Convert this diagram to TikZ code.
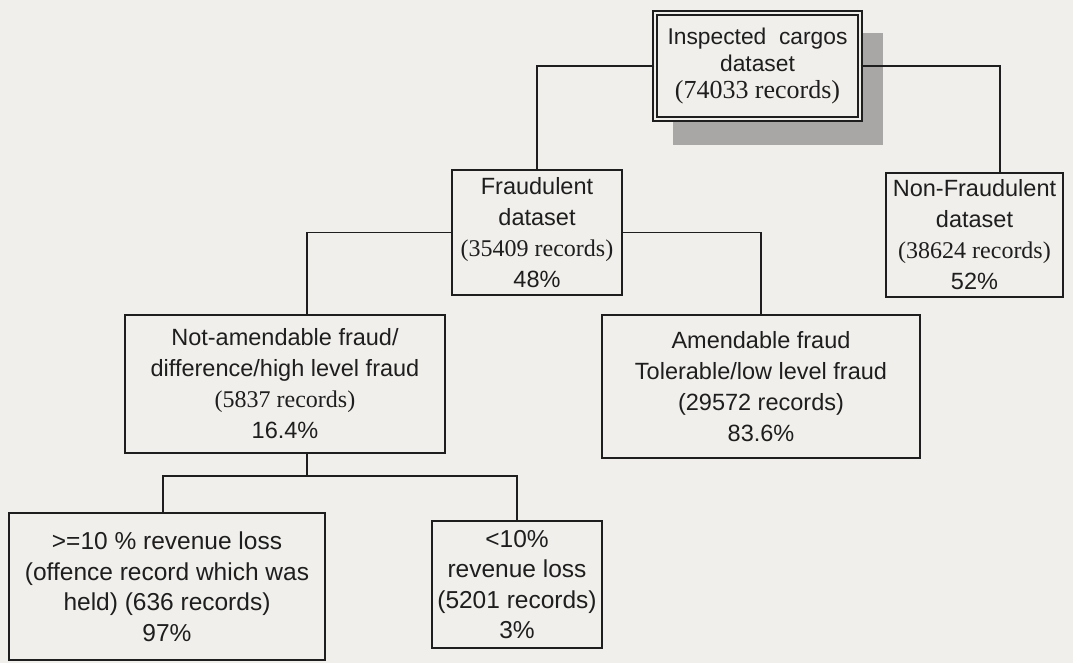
\documentclass[tikz,border=0pt]{standalone}
\usepackage{fontspec}
\setmainfont{Liberation Sans}
\newfontfamily\tms{Liberation Serif}
\definecolor{paper}{RGB}{240,239,235}
\definecolor{ink}{RGB}{30,30,30}
\definecolor{shadowgray}{RGB}{168,167,165}
\tikzset{
  box/.style={draw=ink, line width=1.6pt, fill=paper, inner sep=0pt, align=center,
    text=ink, font=\fontsize{23.5}{31}\selectfont},
  bigbox/.style={box, font=\fontsize{24.5}{30.5}\selectfont},
  rootbox/.style={box, double=paper, double distance=2.6pt, line width=1.3pt,
    font=\fontsize{22.8}{27}\selectfont},
  link/.style={draw=ink, line width=1.4pt}
}
\newcommand{\rec}[1]{{\tms\fontsize{24}{30}\selectfont #1}}
\newcommand{\recbig}[1]{{\tms\fontsize{26}{27}\selectfont #1}}
\begin{document}
\begin{tikzpicture}[x=1pt,y=-1pt]
\fill[paper] (0,0) rectangle (1073,663);
\useasboundingbox (0,0) rectangle (1073,663);

% drop shadow of the root box
\fill[shadowgray] (673,33) rectangle (883,145);

\node[rootbox, minimum width=205pt, minimum height=106pt] (root) at (757.5,66)
  {Inspected\ \ cargos\\dataset\\\recbig{(74033 records)}};

\node[box, minimum width=170pt, minimum height=125pt] (fraud) at (537,232.5)
  {Fraudulent\\dataset\\\rec{(35409 records)}\\48\%};
\node[box, minimum width=177pt, minimum height=124pt] (nonfraud) at (974.5,235)
  {Non-Fraudulent\\dataset\\\rec{(38624 records)}\\52\%};

\node[box, minimum width=320pt, minimum height=138pt] (high) at (285,384)
  {Not-amendable fraud/\\difference/high level fraud\\\rec{(5837 records)}\\16.4\%};
\node[box, minimum width=318pt, minimum height=143pt] (low) at (761,386.5)
  {Amendable fraud\\Tolerable/low level fraud\\(29572 records)\\83.6\%};

\node[bigbox, minimum width=316pt, minimum height=147pt] (big) at (167,586.5)
  {>=10 \% revenue loss\\(offence record which was\\held) (636 records)\\97\%};
\node[bigbox, minimum width=170pt, minimum height=127pt] (small) at (517,584.5)
  {<10\%\\revenue loss\\(5201 records)\\3\%};

% bend points of the tree connectors
\coordinate (rj) at (1000,0);
\coordinate (hj) at (307,0);
\coordinate (bj) at (0,476);

\draw[link] (root.west) -| (fraud.north);
\draw[link] (root.east) -| (rj |- nonfraud.north);
\draw[link] (fraud.west) -| (hj |- high.north);
\draw[link] (fraud.east) -| (low.north);
\draw[link] (hj |- high.south) -- (hj |- bj) -| (big.north -| 163,0);
\draw[link] (hj |- bj) -| (small.north);
\end{tikzpicture}
\end{document}
